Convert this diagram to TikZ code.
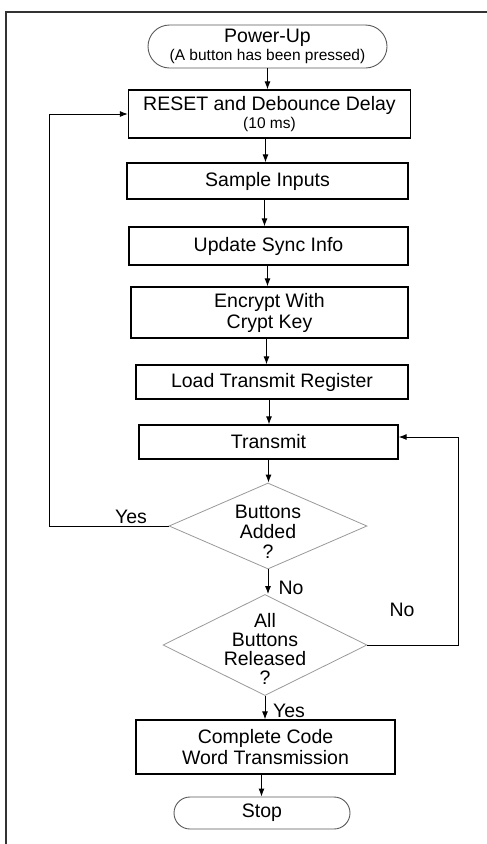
\documentclass[tikz,border=0pt]{standalone}
\usepackage{fontspec}
\setmainfont{Liberation Sans}
\usetikzlibrary{shapes.geometric,shapes.misc,arrows.meta}
\newcommand{\smalltxt}{\fontsize{15.5}{18}\selectfont}
\begin{document}
\begin{tikzpicture}[x=1pt,y=-1pt,
  txt/.style={font=\fontsize{19.5}{21}\selectfont, align=center},
  proc/.style={txt, draw=black, line width=1.2pt, inner sep=0pt},
  term/.style={txt, rounded rectangle, draw=black!65, line width=0.9pt, inner sep=0pt},
  dec/.style={diamond, draw=black!40, line width=0.8pt, inner sep=0pt},
  lbl/.style={txt, inner sep=0pt},
  flow/.style={line width=1pt, draw=black, -{Latex[length=8pt,width=6pt]}}]
\useasboundingbox (0,0) rectangle (487,844);
\draw[line width=1.6pt, black!80] (6,844) -- (6,12) -- (487,12);

\node[term, minimum width=239, minimum height=43] (pwr) at (267.5,46.5)
  {Power-Up\\[-3pt]{\smalltxt (A button has been pressed)}};
\node[proc, minimum width=282, minimum height=48] (reset) at (269.5,114)
  {RESET and Debounce Delay\\[-3pt]{\smalltxt (10 ms)}};
\node[proc, minimum width=281, minimum height=36] (sample) at (267.5,181) {Sample Inputs};
\node[proc, minimum width=279, minimum height=38] (sync) at (268.5,246) {Update Sync Info};
\node[proc, minimum width=277, minimum height=51] (enc) at (269.5,312.5) {Encrypt With\\Crypt Key};
\node[proc, minimum width=272, minimum height=34] (load) at (272,382) {Load Transmit Register};
\node[proc, minimum width=259, minimum height=34] (tx) at (268.5,442) {Transmit};
\node[dec, minimum width=198, minimum height=86] (d1) at (268,526) {};
\node[lbl] (d1t) at ([yshift=-6pt]d1.center) {Buttons\\[-1pt]Added\\[-1pt]?};
\node[dec, minimum width=204, minimum height=101] (d2) at (265,645) {};
\node[lbl] (d2t) at ([yshift=-4pt]d2.center) {All\\[-2pt]Buttons\\[-2pt]Released\\[-2pt]?};
\node[proc, minimum width=259, minimum height=54] (comp) at (265.5,747) {Complete Code\\Word Transmission};
\node[term, minimum width=176, minimum height=32] (stop) at (262,813) {Stop};

\draw[flow] (pwr.south) -- (pwr.south |- reset.north);
\draw[flow] ([xshift=-4pt]reset.south) -- ([xshift=-4pt]reset.south |- sample.north);
\draw[flow] ([xshift=-3pt]sample.south) -- ([xshift=-3pt]sample.south |- sync.north);
\draw[flow] ([xshift=-1pt]sync.south) -- ([xshift=-1pt]sync.south |- enc.north);
\draw[flow] ([xshift=-3pt]enc.south) -- ([xshift=-3pt]enc.south |- load.north);
\draw[flow] ([xshift=-3pt]load.south) -- ([xshift=-3pt]load.south |- tx.north);
\draw[flow] (tx.south) -- (tx.south |- d1.north);
\draw[flow] (d1.south) -- (d1.south |- d2.north);
\draw[flow] (d2.south) -- (d2.south |- comp.north);
\draw[flow] ([xshift=-4pt]comp.south) -- ([xshift=-4pt]comp.south |- stop.north);

\draw[flow] (d1.west) -- ++(-119,0) |- (reset.west);
\draw[flow] (d2.east) -- ++(91,0) |- ([yshift=5pt]tx.east);

\node[lbl] (yes1) at (131,517) {Yes};
\node[lbl] (no1) at (291,588) {No};
\node[lbl] (no2) at (402,610) {No};
\node[lbl] (yes2) at (289,711) {Yes};
\end{tikzpicture}
\end{document}
